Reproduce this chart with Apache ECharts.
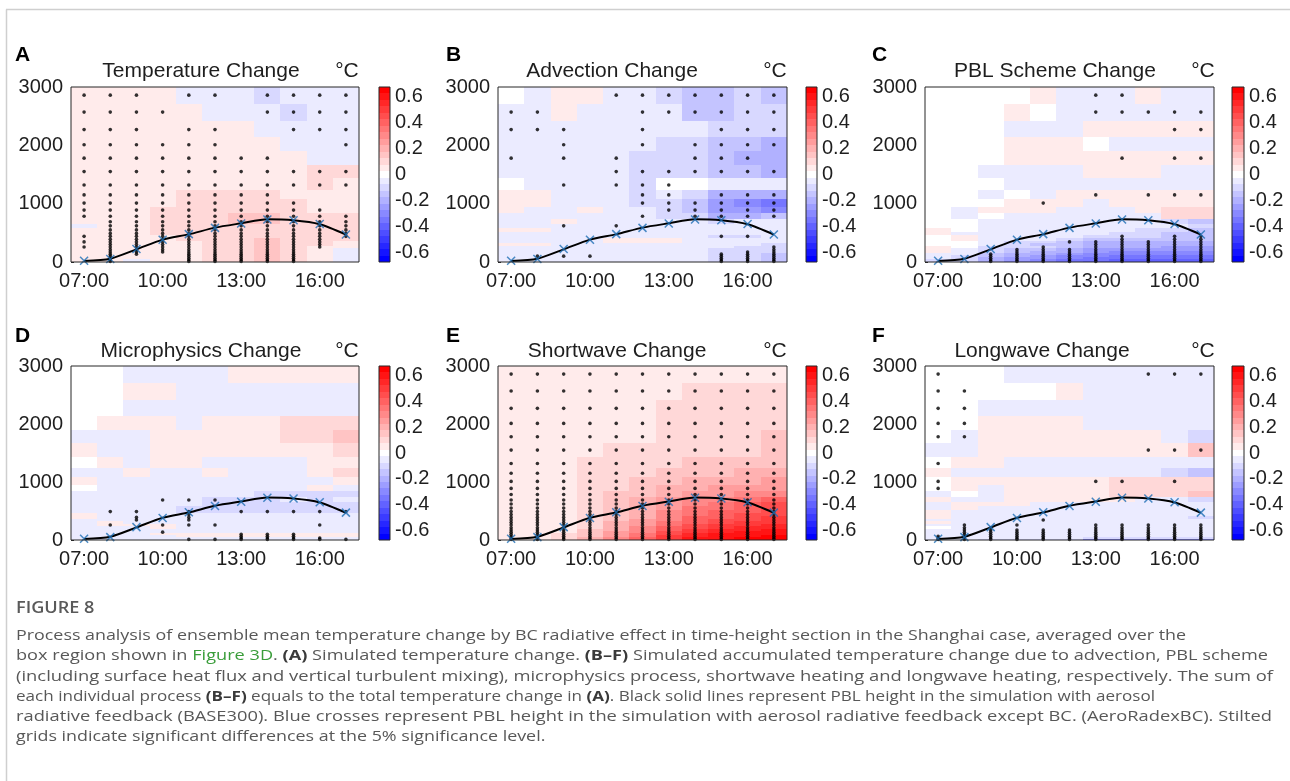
<!DOCTYPE html>
<html><head><meta charset="utf-8">
<script src="https://cdn.jsdelivr.net/npm/echarts@6/dist/echarts.min.js"></script>
<style>html,body{margin:0;padding:0;background:#fff;}#chart{width:1290px;height:781px;}</style>
</head><body><div id="chart"></div>
<script>
// ---------------- DATA ----------------
const hours = [7, 8, 9, 10, 11, 12, 13, 14, 15, 16, 17];
const xTickHours = [7, 10, 13, 16];
const cbarTicks = [-0.6, -0.4, -0.2, 0, 0.2, 0.4, 0.6];
// model level centre heights (m), top to bottom
const levels = [2860, 2570, 2270, 2010, 1780, 1550, 1320, 1150, 1010, 890, 785, 690, 620, 550, 490, 440, 390, 345, 300, 258, 212, 172, 135, 100, 65, 35, 10];
// PBL height (m)
const pblBase300 = [17, 57, 217, 383, 474, 589, 663, 731, 714, 646, 469];
const pblAeroRadexBC = [20, 50, 222, 380, 478, 585, 660, 728, 716, 650, 472];

// temperature change (°C), rows = levels top->bottom, cols = hours
const tempChange = [
[.05,.05,.05,.05,-.05,-.05,-.05,-.1,-.05,-.05,-.05],
[.05,.05,.05,.05,.05,-.05,-.05,-.05,-.1,-.05,-.05],
[.05,.05,.05,.05,.05,.05,.05,-.05,-.05,-.05,-.05],
[.05,.05,.05,.05,.05,.05,.05,.05,-.05,-.05,-.05],
[.05,.05,.05,.05,.05,.05,.05,.05,.05,-.05,-.05],
[.05,.05,.05,.05,.05,.05,.05,.05,.05,.1,.1],
[.05,.05,.05,.05,.05,.05,.05,.05,.05,.1,.05],
[.05,.05,.05,.05,.1,.1,.1,.1,.05,.05,.05],
[.05,.05,.05,.05,.1,.1,.1,.1,.1,.05,.05],
[.05,.05,.05,.1,.1,.1,.1,.1,.1,.05,.05],
[.05,.05,.05,.1,.1,.1,.15,.15,.1,.1,.1],
[.05,.05,.05,.1,.1,.1,.15,.15,.1,.1,.1],
[-.05,.05,.05,.1,.1,.1,.1,.1,.1,.1,.1],
[.05,.05,.05,.1,.1,.1,.1,.1,.1,.1,.1],
[.05,.05,.05,.1,.1,.1,.1,.1,.1,.1,.1],
[.05,.05,.05,.05,.1,.1,.1,.1,.1,.1,.1],
[.05,.05,.05,.05,.1,.1,.1,.15,.1,.1,.1],
[.05,.05,.05,.05,.05,.1,.1,.15,.1,.1,.05],
[.05,.05,.05,.05,.05,.1,.1,.15,.1,.1,.05],
[.05,.05,.05,.05,.05,.1,.1,.15,.1,.05,.05],
[.05,.05,.05,.05,.05,.1,.1,.15,.1,.05,-.05],
[.05,.05,.05,.05,.05,.1,.1,.15,.1,.05,-.05],
[.05,.05,.05,.05,.05,.1,.1,.15,.1,.05,-.05],
[.05,.05,.05,.05,.05,.1,.1,.15,.1,.05,-.05],
[.05,.05,.05,.05,.05,.1,.1,.15,.1,.05,-.05],
[.05,.05,-.05,.05,.05,.1,.1,.15,.1,.05,-.05],
[.05,.05,-.05,.05,.05,.1,.1,.15,.1,.05,-.05]];
const advectionChange = [
[0,-.05,.05,.05,-.05,-.05,-.1,-.15,-.15,-.1,-.15],
[-.05,-.05,.05,-.05,-.05,-.05,-.05,-.15,-.15,-.1,-.1],
[-.05,-.05,-.05,-.05,-.05,-.05,-.05,-.05,-.1,-.1,-.1],
[-.05,-.05,-.05,-.05,-.05,-.05,-.1,-.1,-.15,-.15,-.2],
[-.05,-.05,-.05,-.05,-.05,-.1,-.1,-.1,-.15,-.2,-.2],
[-.05,-.05,-.05,-.05,-.05,-.1,-.1,-.1,-.15,-.15,-.2],
[0,-.05,-.05,-.05,-.05,-.1,0,0,-.05,-.05,-.05],
[.05,.05,-.05,-.05,-.05,-.1,-.05,-.1,-.2,-.2,-.2],
[.05,.05,-.05,-.05,-.05,-.1,-.1,-.15,-.25,-.3,-.35],
[.05,-.05,-.05,.05,-.05,-.05,-.1,-.15,-.25,-.25,-.3],
[-.05,-.05,-.05,-.05,-.05,-.05,-.1,-.1,-.2,-.2,-.15],
[-.05,-.05,.05,-.05,-.05,-.05,-.05,-.05,-.1,-.05,-.05],
[-.05,-.05,-.05,-.05,-.05,-.05,-.05,-.05,-.05,-.05,-.05],
[.05,.05,-.05,-.05,-.05,-.05,-.05,-.05,-.05,-.05,-.05],
[-.05,-.05,-.05,-.05,-.05,-.05,-.05,-.05,-.05,-.05,-.05],
[-.05,-.05,-.05,-.05,-.05,-.05,-.05,-.05,-.1,-.1,-.05],
[-.05,-.05,-.05,-.05,.05,.05,.05,-.05,-.05,-.05,-.05],
[-.05,-.05,-.05,-.05,.05,.05,.05,-.05,-.05,-.05,-.05],
[.05,.05,-.05,-.05,-.05,-.05,-.05,-.05,-.05,-.05,-.1],
[-.05,-.05,-.05,-.05,-.05,-.05,-.05,-.05,-.05,-.1,-.1],
[-.05,-.05,-.05,-.05,-.05,-.05,-.05,-.05,-.1,-.1,-.1],
[-.05,-.05,-.05,-.05,-.05,-.05,-.05,-.05,-.1,-.1,-.1],
[-.05,-.05,-.05,-.05,-.05,-.05,-.05,-.05,-.1,-.1,-.15],
[-.05,-.05,-.05,-.05,-.05,-.05,-.05,-.05,-.1,-.1,-.15],
[-.05,-.05,-.05,-.05,-.05,-.05,-.05,-.05,-.1,-.1,-.15],
[-.05,-.05,-.05,-.05,-.05,-.05,-.05,-.05,-.1,-.1,-.15],
[-.05,-.05,-.05,-.05,-.05,-.05,-.05,-.05,-.1,-.1,-.15]];
const pblChange = [
[0,0,0,0,.05,-.05,-.05,-.05,.05,-.05,-.05],
[0,0,0,.05,0,-.05,-.05,-.05,-.05,-.05,-.05],
[0,0,0,-.05,-.05,-.05,.05,.05,.05,.05,.05],
[0,0,0,.05,.05,.05,0,-.05,-.05,-.05,-.05],
[0,0,0,.05,.05,.05,.05,.05,.05,.05,.05],
[0,0,-.05,-.05,-.05,-.05,.05,.05,.05,-.05,-.05],
[0,0,0,-.05,-.05,-.05,-.05,-.05,-.05,-.05,-.05],
[0,0,-.05,0,-.05,.05,.05,.05,.05,.05,.05],
[0,0,0,.05,.05,.05,-.05,.05,.05,.05,.05],
[0,-.05,.05,.05,.05,-.05,-.05,-.05,.05,.1,.1],
[0,-.05,0,-.05,-.05,-.05,-.05,-.05,-.05,.1,.1],
[0,0,-.05,-.05,-.05,-.05,-.05,-.05,-.05,-.1,-.15],
[0,0,-.05,-.05,-.05,-.05,-.05,-.05,-.05,-.05,-.1],
[.05,0,-.05,-.05,-.05,-.05,-.05,-.05,-.1,-.1,-.15],
[.05,-.05,-.05,-.05,-.05,-.05,-.05,-.1,-.1,-.15,-.15],
[0,.05,-.05,-.05,-.05,-.05,-.1,-.1,-.1,-.15,-.15],
[0,.05,-.05,-.05,-.05,-.1,-.15,-.15,-.15,-.15,-.15],
[0,0,-.05,-.1,-.1,-.15,-.2,-.2,-.2,-.2,-.2],
[0,0,-.05,-.1,-.15,-.15,-.2,-.2,-.2,-.2,-.2],
[.05,0,-.1,-.1,-.1,-.15,-.2,-.2,-.2,-.25,-.25],
[.05,-.05,-.1,-.15,-.15,-.2,-.25,-.25,-.25,-.25,-.25],
[.05,-.05,-.1,-.15,-.2,-.2,-.25,-.3,-.3,-.3,-.3],
[-.05,-.05,-.15,-.2,-.2,-.25,-.3,-.3,-.3,-.3,-.3],
[-.05,-.1,-.15,-.2,-.25,-.3,-.3,-.35,-.35,-.35,-.35],
[-.05,-.1,-.2,-.25,-.25,-.3,-.35,-.35,-.35,-.35,-.35],
[-.1,-.1,-.2,-.25,-.3,-.35,-.35,-.4,-.4,-.4,-.4],
[-.1,-.1,-.2,-.3,-.3,-.35,-.4,-.4,-.4,-.4,-.4]];
const microChange = [
[0,0,-.05,-.05,-.05,-.05,.05,.05,.05,.05,.05],
[0,0,.05,.05,-.05,-.05,-.05,-.05,-.05,-.05,-.05],
[0,0,-.05,-.05,-.05,-.05,-.05,-.05,-.05,-.05,-.05],
[0,.05,.05,.05,-.05,.05,.05,.05,.1,.1,.1],
[-.05,-.05,-.05,.05,.05,.05,.05,.05,.1,.1,.15],
[.05,-.05,-.05,.05,.05,.05,.05,.05,.05,.05,.1],
[0,.05,-.05,.05,.05,-.05,-.05,-.05,-.05,.05,.05],
[-.05,-.05,.05,-.05,-.05,.05,-.05,-.05,-.05,.05,.1],
[.05,-.05,-.05,-.05,-.05,-.05,-.05,-.05,-.05,-.05,.05],
[0,-.05,-.05,-.05,-.05,-.05,-.05,-.05,-.05,.05,-.05],
[-.05,-.05,-.05,-.05,-.05,-.05,-.05,-.1,-.1,-.1,-.1],
[-.05,-.05,-.05,-.05,-.05,-.1,-.1,-.1,-.05,-.1,-.05],
[-.05,-.05,-.05,-.05,-.05,-.1,-.1,-.1,-.1,-.1,-.1],
[-.05,-.05,-.05,-.05,-.1,-.1,-.1,-.1,-.1,-.1,-.1],
[-.05,-.05,-.05,-.05,-.1,-.1,-.1,-.1,-.1,-.1,-.1],
[.05,-.05,-.05,-.05,-.05,-.05,-.05,-.05,-.05,-.05,-.05],
[.05,-.05,-.05,-.05,-.05,-.05,-.05,-.05,-.05,-.05,-.05],
[-.05,-.05,-.05,-.05,-.05,-.05,-.05,-.05,-.05,-.05,-.05],
[-.05,.05,-.05,-.05,-.05,-.05,-.05,-.05,-.05,-.05,-.05],
[-.05,.05,.05,.05,-.05,-.05,-.05,-.05,-.05,-.05,-.05],
[-.05,-.05,-.05,.05,-.05,-.05,-.05,-.05,-.05,-.05,-.05],
[-.05,-.05,-.05,-.05,-.05,-.05,-.05,-.05,-.05,-.05,-.05],
[-.05,-.05,-.05,-.05,-.05,-.05,-.05,-.05,-.05,-.05,-.05],
[-.05,-.05,-.05,.05,.05,.05,.05,.05,.05,.05,.05],
[-.05,-.05,-.05,-.05,.05,.05,.05,.05,.05,.05,.05],
[-.05,-.05,-.05,-.05,-.05,-.05,-.05,-.05,-.05,-.05,-.05],
[-.05,-.05,-.05,-.05,-.05,-.05,-.05,-.05,-.05,-.05,-.05]];
const shortwaveChange = [
[.05,.05,.05,.05,.05,.05,.05,.05,.05,.05,.05],
[.05,.05,.05,.05,.05,.05,.05,.1,.1,.1,.1],
[.05,.05,.05,.05,.05,.05,.1,.1,.1,.1,.1],
[.05,.05,.05,.05,.05,.05,.1,.1,.1,.1,.1],
[.05,.05,.05,.05,.05,.05,.1,.1,.1,.1,.15],
[.05,.05,.05,.05,.1,.1,.1,.1,.1,.1,.15],
[.05,.05,.05,.1,.1,.1,.1,.15,.15,.15,.15],
[.05,.05,.05,.1,.1,.1,.15,.15,.15,.2,.2],
[.05,.05,.05,.1,.1,.15,.15,.2,.2,.2,.25],
[.05,.05,.05,.1,.1,.15,.2,.2,.25,.25,.25],
[.05,.05,.05,.1,.15,.15,.2,.25,.25,.3,.3],
[.05,.05,.05,.1,.15,.2,.25,.3,.3,.35,.4],
[.05,.05,.05,.1,.15,.2,.25,.3,.35,.4,.45],
[.05,.05,.05,.1,.15,.2,.25,.35,.35,.4,.45],
[.05,.05,.05,.1,.15,.2,.3,.35,.4,.4,.45],
[.05,.05,.05,.1,.15,.2,.3,.35,.4,.45,.45],
[.05,.05,.05,.1,.15,.2,.3,.4,.4,.45,.5],
[.05,.05,.05,.1,.15,.25,.3,.4,.45,.45,.5],
[.05,.05,.05,.1,.2,.25,.35,.4,.45,.5,.5],
[.05,.05,.05,.1,.2,.25,.35,.45,.5,.5,.55],
[.05,.05,.05,.1,.2,.3,.4,.45,.5,.55,.55],
[.05,.05,.05,.15,.2,.3,.4,.5,.55,.55,.6],
[.05,.05,.05,.15,.25,.3,.45,.5,.55,.6,.6],
[.05,.05,.1,.15,.25,.35,.45,.55,.6,.6,.6],
[.05,.05,.1,.15,.25,.35,.5,.55,.6,.6,.65],
[.05,.05,.1,.2,.3,.4,.5,.6,.6,.65,.65],
[.05,.05,.1,.2,.3,.4,.5,.6,.65,.65,.65]];
const longwaveChange = [
[0,0,0,-.05,-.05,-.05,-.05,-.05,-.05,-.05,-.05],
[0,0,0,0,0,.05,-.05,-.05,-.05,-.05,-.05],
[0,0,-.05,-.05,-.05,-.05,-.05,-.05,-.05,-.05,-.05],
[0,0,.05,.05,.05,.05,-.05,-.05,-.05,-.05,-.05],
[0,-.05,.05,.05,.05,.05,.05,.05,.05,-.05,-.1],
[-.05,-.05,.05,.05,.05,.05,.05,.05,.05,.05,.15],
[0,.05,.05,-.05,-.05,-.05,-.05,-.05,-.05,-.05,-.05],
[.05,-.05,-.05,-.05,-.05,-.05,-.05,-.05,-.05,-.1,-.15],
[0,.05,.05,.05,.05,.05,.05,.1,.1,.1,.1],
[0,.05,-.05,.05,.05,.05,.05,.1,.1,.1,.1],
[-.05,0,-.05,.05,.05,.05,.05,.1,.1,.1,.15],
[.05,-.05,-.05,.05,.05,.05,.05,.05,-.05,-.05,-.1],
[-.05,.05,.05,.05,-.05,-.05,-.05,-.05,-.05,-.05,-.05],
[-.05,.05,-.05,-.05,-.05,-.05,-.05,-.05,-.05,-.05,-.05],
[.05,-.05,-.05,-.05,-.05,-.05,-.05,-.05,-.05,-.05,-.05],
[.05,-.05,-.05,-.05,-.05,-.05,-.05,-.05,-.05,-.05,-.05],
[.05,-.05,-.05,-.05,-.05,-.05,-.05,-.05,-.05,-.05,-.1],
[-.05,-.05,-.05,-.05,-.05,-.05,-.05,-.05,-.05,-.05,-.05],
[.05,-.05,-.05,-.05,-.05,-.05,-.05,-.05,-.05,-.05,-.05],
[-.05,-.05,-.05,-.05,-.05,-.05,-.05,-.05,-.05,-.05,-.05],
[0,-.05,-.05,-.05,-.05,-.05,-.05,-.05,-.05,-.05,-.05],
[-.05,-.05,-.05,-.05,-.05,-.05,-.05,-.05,-.05,-.05,-.05],
[-.05,-.05,-.05,-.05,-.05,-.05,-.05,-.05,-.05,-.05,-.05],
[-.05,-.05,-.05,-.05,-.05,-.05,-.05,-.05,-.05,-.05,-.05],
[-.05,-.05,-.05,-.05,-.05,-.05,-.05,-.05,-.05,-.05,-.05],
[-.05,-.05,-.05,-.05,-.05,-.05,-.1,-.1,-.1,-.1,-.1],
[-.05,-.05,-.1,-.1,-.1,-.1,-.3,-.3,-.3,-.3,-.3]];

// significance flags (1 = significant at 5%), rows = levels top->bottom
const tempSig = ["111.11.1111","1111...1111","111.11..111","111111....1","11111111...","11111111111","11111111111","11111111...","111111111..","1111111111.","11111111111",".1111111111",".1111111111",".1111111111",".1111111111","11111111111",".111111111.","1111111111.",".111111111.","1111111111.",".11111111..",".11111111..",".11.11111..",".1..11111..",".1..11111..",".1..11111..",".1..11111.."];
const advSig = ["....1111111","11...111111","111..1..111","..1..1.1111","1.1.1..111.","....1111111","..1.111....",".....11.111",".....111111","......11111",".....1.1111","...........","..1.1......","...........","...........","........11.","...........","...........","...........","..........1","..........1",".........11","........111",".111....111","........111","........111","........111"];
const pblSig = ["......11...","......11111",".........11","...........",".......1.11","...........","...........","......1.111","....1......","...........","...........","...........","...........","...........","...........",".......1.11",".......1.11",".....111111","......11111","....1.11111","...11111111","...11111111","..111111111","..111111111","..111111111","..111111111","..111111111"];
const microSig = ["...........","...........","...........","...........","...........","...........","...........","...........","...........","...........","...........","...111.....","...........","...........",".11.1.11111","....1......","..1.1......","..1.1......","...........",".1.111...1.","...........","...........","...1.......","......111..","......111..","......1111.","....1111111"];
const swSig = levels.map(() => "11111111111");
const lwSig = ["1.......111","11.........","11.........","11.........","11.........","........111","1..........","...........","1.....11.1.","1..........","...........","...........","...........","...........","...........","...........","...........","....1......","...........",".1.1..11111",".11...11111",".1111111111",".1111111111",".1111111111","11111111111","11111111111","11111111111"];

const panelTitles = ["Temperature Change", "Advection Change", "PBL Scheme Change", "Microphysics Change", "Shortwave Change", "Longwave Change"];
const panelLetters = ["A", "B", "C", "D", "E", "F"];
const panelValues = [tempChange, advectionChange, pblChange, microChange, shortwaveChange, longwaveChange];
const panelSig = [tempSig, advSig, pblSig, microSig, swSig, lwSig];

// ---------------- LAYOUT ----------------
const colL = [{left:71,width:288,cb:379,cbw:11,unit:347,letter:15},
              {left:498,width:289,cb:806,cbw:11,unit:775,letter:446},
              {left:925,width:289,cb:1232,cbw:12,unit:1203,letter:872}];
const rowL = [{top:87,height:175,title:71,letter:55},{top:366,height:174,title:351,letter:336}];
const titleX = [201, 612, 1055, 201, 617, 1042];
const FONT = 'Liberation Sans';
const TXT = '#1e1e1e';

function bandColor(v){
  let k = Math.round(v / 0.05);
  k = Math.max(-13, Math.min(13, k));
  const c = Math.round(255 * (1 - Math.abs(k) / 13));
  if (k > 0) return 'rgb(255,' + c + ',' + c + ')';
  if (k < 0) return 'rgb(' + c + ',' + c + ',255)';
  return '#ffffff';
}
function fmtHour(v){ return (v < 10 ? '0' : '') + v + ':00'; }
function bounds(i){
  const up = i === 0 ? 3000 : (levels[i-1] + levels[i]) / 2;
  const lo = i === levels.length - 1 ? 0 : (levels[i] + levels[i+1]) / 2;
  return [lo, up];
}

const grids = [], xAxes = [], yAxes = [], series = [], texts = [];
for (let p = 0; p < 6; p++){
  const c = colL[p % 3], r = rowL[Math.floor(p / 3)];
  grids.push({left:c.left, top:r.top, width:c.width, height:r.height, show:true, borderColor:'#262626', borderWidth:1, backgroundColor:'transparent', z:10, outerBoundsMode:'none'});
  xAxes.push({type:'value', gridIndex:p, min:6.5, max:17.5,
    axisLine:{show:false}, splitLine:{show:false},
    axisTick:{show:true, inside:true, length:3, customValues:xTickHours, lineStyle:{color:'#262626'}},
    axisLabel:{customValues:xTickHours, formatter:fmtHour, fontSize:20, fontFamily:FONT, color:TXT, margin:9}});
  yAxes.push({type:'value', gridIndex:p, min:0, max:3000, interval:1000,
    axisLine:{show:false}, splitLine:{show:false},
    axisTick:{show:true, inside:true, length:3, lineStyle:{color:'#262626'}},
    axisLabel:{formatter:v => String(v), fontSize:20, fontFamily:FONT, color:TXT, margin:8}});
}
for (let p = 0; p < 6; p++){
  const c = colL[p % 3], r = rowL[Math.floor(p / 3)];
  grids.push({left:c.cb, top:r.top, width:c.cbw, height:r.height, show:true, borderColor:'#262626', borderWidth:1, backgroundColor:'transparent', z:10, outerBoundsMode:'none'});
  xAxes.push({type:'value', gridIndex:6+p, min:0, max:1, show:false});
  yAxes.push({type:'value', gridIndex:6+p, min:-0.675, max:0.675, position:'right',
    axisLine:{show:false}, splitLine:{show:false}, axisTick:{show:false},
    axisLabel:{customValues:cbarTicks, formatter:v => String(Math.round(v*10)/10), fontSize:20, fontFamily:FONT, color:TXT, margin:5}});
}

for (let p = 0; p < 6; p++){
  const vals = panelValues[p], sig = panelSig[p];
  const cells = [], dots = [];
  levels.forEach((h, i) => {
    const b = bounds(i);
    hours.forEach((hr, j) => {
      cells.push([hr, b[0], b[1], vals[i][j]]);
      if (sig[i][j] === '1') dots.push([hr, h]);
    });
  });
  series.push({type:'custom', xAxisIndex:p, yAxisIndex:p, silent:true, clip:true, z:1,
    data:cells,
    renderItem:function(params, api){
      const hr = api.value(0), lo = api.value(1), hi = api.value(2), v = api.value(3);
      const p1 = api.coord([hr - 0.5, hi]), p2 = api.coord([hr + 0.5, lo]);
      const x0 = Math.round(p1[0]), y0 = Math.round(p1[1]), x1 = Math.round(p2[0]), y1 = Math.round(p2[1]);
      return {type:'rect', shape:{x:x0, y:y0, width:x1-x0, height:y1-y0}, style:{fill:bandColor(v)}};
    }});
  series.push({type:'scatter', xAxisIndex:p, yAxisIndex:p, silent:true, z:3,
    symbol:'circle', symbolSize:3.6, itemStyle:{color:'#000'}, data:dots});
  series.push({type:'line', xAxisIndex:p, yAxisIndex:p, silent:true, z:4, smooth:0.25,
    symbol:'none', lineStyle:{color:'#000', width:2},
    data:hours.map((hr, j) => [hr, pblBase300[j]])});
  series.push({type:'scatter', xAxisIndex:p, yAxisIndex:p, silent:true, z:5,
    symbol:'path://M0,0L10,10M10,0L0,10', symbolSize:8,
    itemStyle:{color:'none', borderColor:'#1f6fb5', borderWidth:1.5},
    data:hours.map((hr, j) => [hr, pblAeroRadexBC[j]])});
  // colorbar
  const bands = [];
  for (let k = -13; k <= 13; k++) bands.push([k]);
  series.push({type:'custom', xAxisIndex:6+p, yAxisIndex:6+p, silent:true, clip:true, z:1,
    data:bands,
    renderItem:function(params, api){
      const k = api.value(0);
      const q1 = api.coord([0, (k + 0.5) * 0.05]), q2 = api.coord([1, (k - 0.5) * 0.05]);
      const y0 = Math.round(q1[1]), y1 = Math.round(q2[1]);
      return {type:'rect', shape:{x:q1[0], y:y0, width:q2[0]-q1[0], height:y1-y0}, style:{fill:bandColor(k*0.05)}};
    }});

  const c = colL[p % 3], r = rowL[Math.floor(p / 3)];
  texts.push({type:'text', x:c.letter, y:r.letter, silent:true,
    style:{text:panelLetters[p], font:'bold 21px "' + FONT + '"', fill:'#000', align:'left', verticalAlign:'middle', textAlign:'left', textVerticalAlign:'middle'}});
  texts.push({type:'text', x:titleX[p], y:r.title, silent:true,
    style:{text:panelTitles[p], font:'21px "' + FONT + '"', fill:TXT, align:'center', verticalAlign:'middle', textAlign:'center', textVerticalAlign:'middle'}});
  texts.push({type:'text', x:c.unit, y:r.title, silent:true,
    style:{text:'°C', font:'21px "' + FONT + '"', fill:TXT, align:'center', verticalAlign:'middle', textAlign:'center', textVerticalAlign:'middle'}});
}

// page frame
texts.push({type:'line', silent:true, shape:{x1:6, y1:9.5, x2:1290, y2:9.5}, style:{stroke:'#cfcfcf', lineWidth:1.5}});
texts.push({type:'line', silent:true, shape:{x1:6.5, y1:9.5, x2:6.5, y2:781}, style:{stroke:'#cfcfcf', lineWidth:1.5}});

// caption
const CAP_FONT = 'Open Sans', CAP_SIZE = 15;
const capLines = [
  [["n","Process analysis of ensemble mean temperature change by BC radiative effect in time-height section in the Shanghai case, averaged over the"]],
  [["n","box region shown in "],["g","Figure 3D"],["n",". "],["b","(A)"],["n"," Simulated temperature change. "],["b","(B–F)"],["n"," Simulated accumulated temperature change due to advection, PBL scheme"]],
  [["n","(including surface heat flux and vertical turbulent mixing), microphysics process, shortwave heating and longwave heating, respectively. The sum of"]],
  [["n","each individual process "],["b","(B–F)"],["n"," equals to the total temperature change in "],["b","(A)"],["n",". Black solid lines represent PBL height in the simulation with aerosol"]],
  [["n","radiative feedback (BASE300). Blue crosses represent PBL height in the simulation with aerosol radiative feedback except BC. (AeroRadexBC). Stilted"]],
  [["n","grids indicate significant differences at the 5% significance level."]]
];
// right edge of each caption line in the page (null = use the first line's scale)
const capRight = [1186, 1268, 1273, 1155, 1272, null];
const ctx = document.createElement('canvas').getContext('2d');
function segWidth(s){ ctx.font = (s[0] === 'b' ? 'bold ' : '') + CAP_SIZE + 'px "' + CAP_FONT + '"'; return ctx.measureText(s[1]).width; }
function lineWidth(line){ return line.reduce((a, s) => a + segWidth(s), 0); }
const baseScale = (capRight[0] - 16) / lineWidth(capLines[0]);
const rich = {
  n:{fill:'#585858', fontSize:CAP_SIZE, fontFamily:CAP_FONT, fontWeight:'normal'},
  b:{fill:'#3a3a3a', fontSize:CAP_SIZE, fontFamily:CAP_FONT, fontWeight:'bold'},
  g:{fill:'#3a9d3a', fontSize:CAP_SIZE, fontFamily:CAP_FONT, fontWeight:'normal'}
};
capLines.forEach((line, i) => {
  const txt = line.map(s => '{' + s[0] + '|' + s[1] + '}').join('');
  const sc = capRight[i] ? (capRight[i] - 16) / lineWidth(line) : baseScale;
  texts.push({type:'text', x:16, y:636 + i * 20.2, scaleX:sc, silent:true,
    style:{text:txt, rich:rich, font:CAP_SIZE + 'px "' + CAP_FONT + '"', fill:'#585858', align:'left', verticalAlign:'middle', textAlign:'left', textVerticalAlign:'middle'}});
});
texts.push({type:'text', x:16, y:608, scaleX:baseScale * 0.95, silent:true,
  style:{text:'FIGURE 8', font:'600 16px "' + CAP_FONT + '"', fill:'#5a5a5a', align:'left', verticalAlign:'middle', textAlign:'left', textVerticalAlign:'middle'}});

const chart = echarts.init(document.getElementById('chart'), null, {renderer:'canvas'});
chart.setOption({
  animation:false,
  backgroundColor:'#ffffff',
  textStyle:{fontFamily:FONT},
  grid:grids, xAxis:xAxes, yAxis:yAxes, series:series,
  graphic:{elements:texts}
});
</script>
</body></html>
